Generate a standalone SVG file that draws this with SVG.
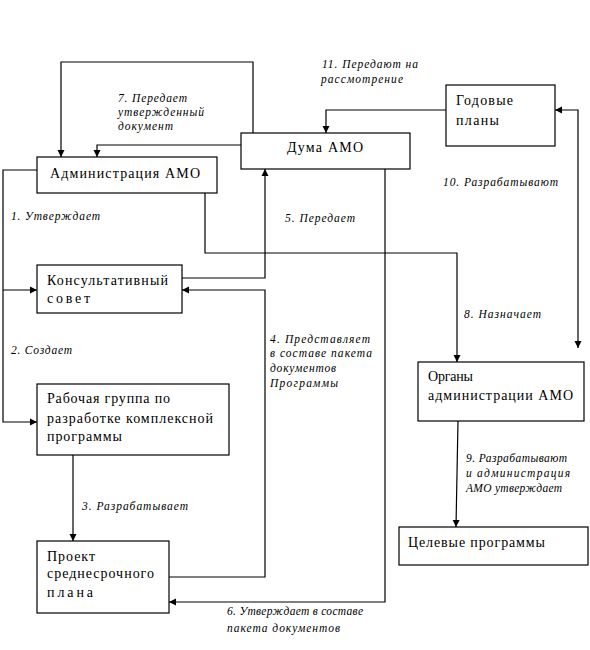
<svg xmlns="http://www.w3.org/2000/svg" width="590" height="650" viewBox="0 0 590 650">
<style>
.box{fill:#fff;stroke:#000;stroke-width:1.2}
.cn{fill:none;stroke:#000;stroke-width:1.2}
</style>
<defs>
<marker id="ah" markerUnits="userSpaceOnUse" markerWidth="8" markerHeight="8" refX="7" refY="4" orient="auto">
<path d="M0,0.5 L7,4 L0,7.5 Z" fill="#000"/>
</marker>
<marker id="ahs" markerUnits="userSpaceOnUse" markerWidth="8" markerHeight="8" refX="0" refY="4" orient="auto">
<path d="M7,0.5 L0,4 L7,7.5 Z" fill="#000"/>
</marker>
</defs>
<rect width="590" height="650" fill="#fff"/>
<g id="connectors">
<polyline class="cn" points="253,133 253,62 61,62 61,157" marker-end="url(#ah)"/>
<polyline class="cn" points="241,145 97,145 97,157" marker-end="url(#ah)"/>
<polyline class="cn" points="37,170 3,170 3,422 37,422" marker-end="url(#ah)"/>
<polyline class="cn" points="3,290 37,290" marker-end="url(#ah)"/>
<polyline class="cn" points="205,193 205,253 457,253 457,362" marker-end="url(#ah)"/>
<polyline class="cn" points="182,278 265,278 265,169" marker-end="url(#ah)"/>
<polyline class="cn" points="169,577 265,577 265,290 182,290" marker-end="url(#ah)"/>
<polyline class="cn" points="385,169 385,602 169,602" marker-end="url(#ah)"/>
<polyline class="cn" points="73,455 73,541" marker-end="url(#ah)"/>
<polyline class="cn" points="446,110 326,110 326,133" marker-end="url(#ah)"/>
<polyline class="cn" points="555,110 578,110 578,348" marker-start="url(#ahs)" marker-end="url(#ah)"/>
<polyline class="cn" points="458,421 456,527" marker-end="url(#ah)"/>
</g>
<g font-family="Liberation Serif, Times New Roman, serif" font-size="14" fill="#000">
<g id="n-admin"><rect class="box" x="37" y="157" width="180" height="36"/><text x="50" y="178" textLength="150" lengthAdjust="spacing">Администрация АМО</text></g>
<g id="n-duma"><rect class="box" x="241" y="133" width="169" height="36"/><text x="287" y="152" textLength="76" lengthAdjust="spacing">Дума АМО</text></g>
<g id="n-plans"><rect class="box" x="446" y="85" width="109" height="61"/><text x="456" y="105" textLength="57" lengthAdjust="spacing">Годовые</text><text x="456" y="125" textLength="43" lengthAdjust="spacing">планы</text></g>
<g id="n-council"><rect class="box" x="37" y="265" width="145" height="48"/><text x="47" y="285" textLength="121" lengthAdjust="spacing">Консультативный</text><text x="47" y="303" textLength="43" lengthAdjust="spacing">совет</text></g>
<g id="n-group"><rect class="box" x="37" y="384" width="192" height="71"/><text x="47" y="403" textLength="123" lengthAdjust="spacing">Рабочая группа по</text><text x="47" y="423" textLength="166" lengthAdjust="spacing">разработке комплексной</text><text x="47" y="441" textLength="75" lengthAdjust="spacing">программы</text></g>
<g id="n-project"><rect class="box" x="37" y="541" width="132" height="72"/><text x="47" y="561" textLength="48" lengthAdjust="spacing">Проект</text><text x="47" y="578" textLength="107" lengthAdjust="spacing">среднесрочного</text><text x="47" y="597" textLength="46" lengthAdjust="spacing">плана</text></g>
<g id="n-organs"><rect class="box" x="418" y="362" width="166" height="59"/><text x="428" y="381" textLength="45" lengthAdjust="spacing">Органы</text><text x="428" y="400" textLength="145" lengthAdjust="spacing">администрации АМО</text></g>
<g id="n-target"><rect class="box" x="399" y="527" width="189" height="38"/><text x="408" y="547" textLength="137" lengthAdjust="spacing">Целевые программы</text></g>
</g>
<g id="labels" font-family="Liberation Serif, Times New Roman, serif" font-size="11.5" font-style="italic" fill="#000">
<text x="322" y="68" textLength="96" lengthAdjust="spacing">11. Передают на</text>
<text x="321" y="83" textLength="82" lengthAdjust="spacing">рассмотрение</text>
<text x="118" y="102" textLength="69" lengthAdjust="spacing">7. Передает</text>
<text x="118" y="116" textLength="86" lengthAdjust="spacing">утвержденный</text>
<text x="118" y="130" textLength="55" lengthAdjust="spacing">документ</text>
<text x="443" y="186" textLength="115" lengthAdjust="spacing">10. Разрабатывают</text>
<text x="285" y="222" textLength="70" lengthAdjust="spacing">5. Передает</text>
<text x="11" y="220" textLength="89" lengthAdjust="spacing">1. Утверждает</text>
<text x="11" y="354" textLength="61" lengthAdjust="spacing">2. Создает</text>
<text x="464" y="318" textLength="77" lengthAdjust="spacing">8. Назначает</text>
<text x="270" y="343" textLength="100" lengthAdjust="spacing">4. Представляет</text>
<text x="270" y="357" textLength="102" lengthAdjust="spacing">в составе пакета</text>
<text x="270" y="372" textLength="66" lengthAdjust="spacing">документов</text>
<text x="270" y="387" textLength="68" lengthAdjust="spacing">Программы</text>
<text x="82" y="510" textLength="106" lengthAdjust="spacing">3. Разрабатывает</text>
<text x="466" y="462" textLength="101" lengthAdjust="spacing">9. Разрабатывают</text>
<text x="466" y="477" textLength="104" lengthAdjust="spacing">и администрация</text>
<text x="466" y="492" textLength="96" lengthAdjust="spacing">АМО утверждает</text>
<text x="227" y="615" textLength="136" lengthAdjust="spacing">6. Утверждает в составе</text>
<text x="227" y="632" textLength="113" lengthAdjust="spacing">пакета документов</text>
</g>
</svg>
